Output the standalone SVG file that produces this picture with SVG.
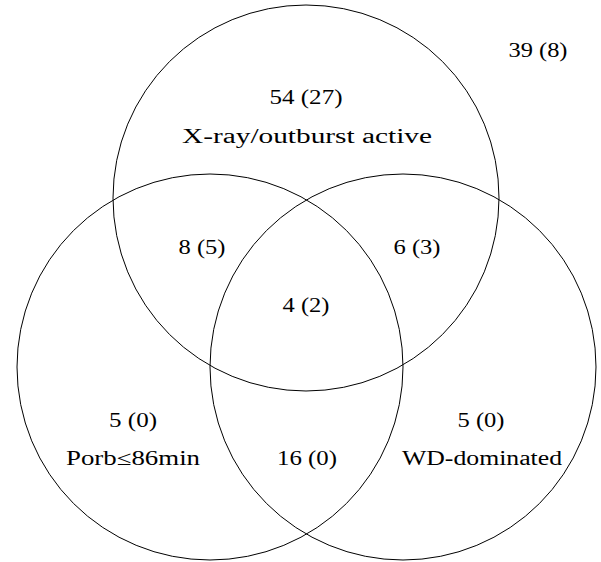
<svg xmlns="http://www.w3.org/2000/svg" width="601" height="562" viewBox="0 0 601 562">
<style>
.c{fill:none;stroke:#000;stroke-width:1}
.t{font-family:"Liberation Serif","DejaVu Serif",serif;font-size:20px;fill:#000;text-anchor:middle}
</style>
<rect width="601" height="562" fill="#fff"/>
<g id="circles">
<g id="xray"><circle class="c" cx="306" cy="198" r="193"/></g>
<g id="porb"><circle class="c" cx="210" cy="367" r="193"/></g>
<g id="wd"><circle class="c" cx="403" cy="367" r="193"/></g>
</g>
<g id="labels">
<text class="t" x="306" y="104" textLength="73" lengthAdjust="spacingAndGlyphs">54 (27)</text>
<text class="t" x="307" y="143" textLength="250" lengthAdjust="spacingAndGlyphs">X-ray/outburst active</text>
<text class="t" x="538" y="57" textLength="59" lengthAdjust="spacingAndGlyphs">39 (8)</text>
<text class="t" x="202" y="254" textLength="47" lengthAdjust="spacingAndGlyphs">8 (5)</text>
<text class="t" x="417" y="254" textLength="47" lengthAdjust="spacingAndGlyphs">6 (3)</text>
<text class="t" x="306" y="312" textLength="47" lengthAdjust="spacingAndGlyphs">4 (2)</text>
<text class="t" x="133" y="427" textLength="48" lengthAdjust="spacingAndGlyphs">5 (0)</text>
<text class="t" x="133" y="465" textLength="134" lengthAdjust="spacingAndGlyphs">Porb≤86min</text>
<text class="t" x="307" y="465" textLength="60" lengthAdjust="spacingAndGlyphs">16 (0)</text>
<text class="t" x="481" y="427" textLength="47" lengthAdjust="spacingAndGlyphs">5 (0)</text>
<text class="t" x="482" y="465" textLength="160" lengthAdjust="spacingAndGlyphs">WD-dominated</text>
</g>
</svg>
